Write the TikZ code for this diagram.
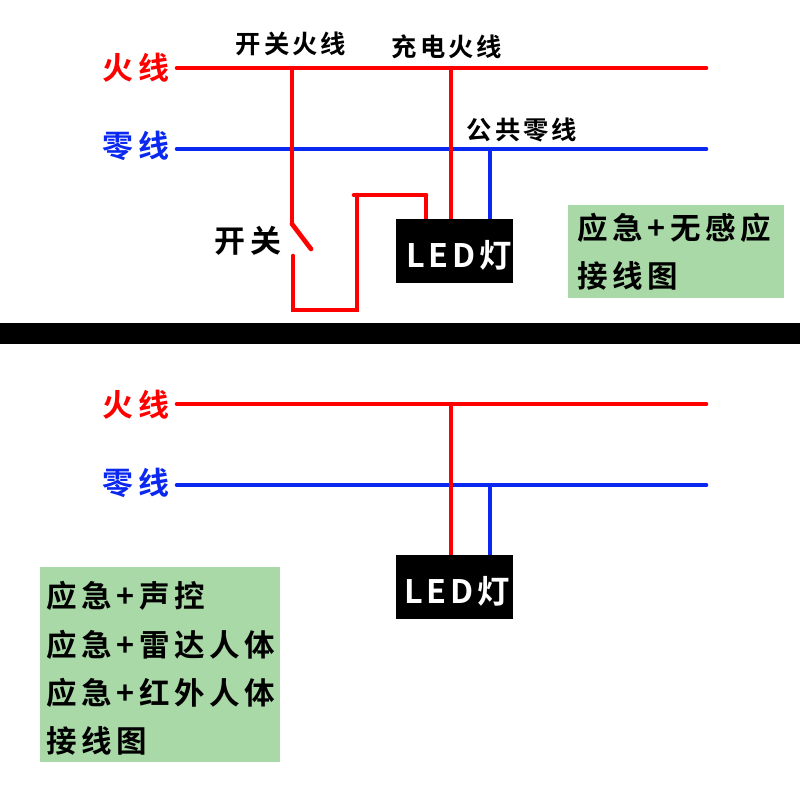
\documentclass[tikz,border=0pt]{standalone}
\usepackage{fontspec}
\setmainfont{Liberation Sans}
\newfontfamily\cjk[LetterSpace=12]{Noto Sans CJK SC}[BoldFont={* Bold}]
\newfontfamily\cjkwide[LetterSpace=15]{Noto Sans CJK SC}[BoldFont={* Bold}]
\usetikzlibrary{calc,positioning}
\definecolor{wirered}{HTML}{FE0000}
\definecolor{wireblue}{HTML}{0A28F0}
\definecolor{notegreen}{HTML}{A9D9A7}
\tikzset{
	redwire/.style={draw=wirered, line width=3.3pt},
	bluewire/.style={draw=wireblue, line width=3.3pt},
	wirelabel/.style={font=\cjkwide\bfseries\fontsize{22}{22}\selectfont, inner sep=0},
	toplabel/.style={font=\cjk\bfseries\fontsize{18}{18}\selectfont, inner sep=0},
	lamp/.style={fill=black, minimum width=83.2pt, minimum height=45.5pt, inner sep=0},
	lamptext/.style={text=white, font=\cjk\bfseries\fontsize{23}{23}\selectfont, inner sep=0},
	note/.style={fill=notegreen},
	notetext/.style={font=\cjkwide\bfseries\fontsize{21.7}{21.7}\selectfont, anchor=west, inner sep=0}
}

\begin{document}
\begin{tikzpicture}[x=0.025cm, y=-0.025cm]
			\useasboundingbox (0, 0) rectangle (800, 800);
			%%%%% START %%%%%
			\draw[fill=black, draw=none] (0, 323) rectangle (800, 344);
			
			\fill[note] (568, 205) rectangle (784, 298);
			\fill[note] (40, 567) rectangle (280, 762);
			
			% upper circuit
			\node[lamp] (lampA) at (454.5, 251) {};
			\node[lamptext] (lampAtext) at (459, 255) {LED灯};
			\node[wirelabel, text=wirered] (fireA) at (136, 68) {火线};
			\node[wirelabel, text=wireblue] (zeroA) at (136, 146) {零线};
			\node[toplabel] (switchfire) at (291, 44) {开关火线};
			\node[toplabel] (chargefire) at (447, 47) {充电火线};
			\node[toplabel] (commonzero) at (522, 130) {公共零线};
			\node[wirelabel] (switchlabel) at (248, 241) {开关};
			
			\coordinate (fireAl) at (177, 68);
			\coordinate (fireAr) at (706, 68);
			\coordinate (zeroAl) at (177, 149);
			\coordinate (zeroAr) at (706, 149);
			\coordinate (switchtop) at (292, 68);
			\coordinate (pivot) at (292, 224);
			\coordinate (blade) at (311, 249);
			\coordinate (contact) at (293, 256);
			
			\draw[bluewire, line cap=round] (zeroAl) -- (zeroAr);
			\draw[bluewire] (490, 149) -- (490, 219);
			\draw[redwire, line cap=round] (fireAl) -- (fireAr);
			\draw[redwire] (switchtop) -- (pivot);
			\draw[redwire, line cap=round] (pivot) -- (blade);
			\draw[redwire, line cap=round, line join=miter] (contact) -- (293, 310) -- (357, 310) -- (357, 195);
			\draw[redwire, line cap=round] (354, 195) -- (426, 195);
			\draw[redwire] (426, 195) -- (426, 219);
			\draw[redwire] (451, 68) -- (451, 219);
			
			% lower circuit
			\node[lamp] (lampB) at (454.5, 587) {};
			\node[lamptext] (lampBtext) at (457, 591) {LED灯};
			\node[wirelabel, text=wirered] (fireB) at (136, 405) {火线};
			\node[wirelabel, text=wireblue] (zeroB) at (136, 483) {零线};
			
			\coordinate (fireBl) at (177, 404);
			\coordinate (fireBr) at (706, 404);
			\coordinate (zeroBl) at (177, 485);
			\coordinate (zeroBr) at (706, 485);
			
			\draw[bluewire, line cap=round] (zeroBl) -- (zeroBr);
			\draw[bluewire] (490, 485) -- (490, 555);
			\draw[redwire, line cap=round] (fireBl) -- (fireBr);
			\draw[redwire] (451, 404) -- (451, 555);
			
			% notes
			\node[notetext] (noteA) at (577, 228) {应急+无感应};
			\node[notetext] (noteB) at (577, 276) {接线图};
			\node[notetext] (noteC) at (46, 596) {应急+声控};
			\node[notetext] (noteD) at (46, 645) {应急+雷达人体};
			\node[notetext] (noteE) at (46, 693) {应急+红外人体};
			\node[notetext] (noteF) at (46, 741) {接线图};
			%%%%% END %%%%%
		\end{tikzpicture}
\end{document}
